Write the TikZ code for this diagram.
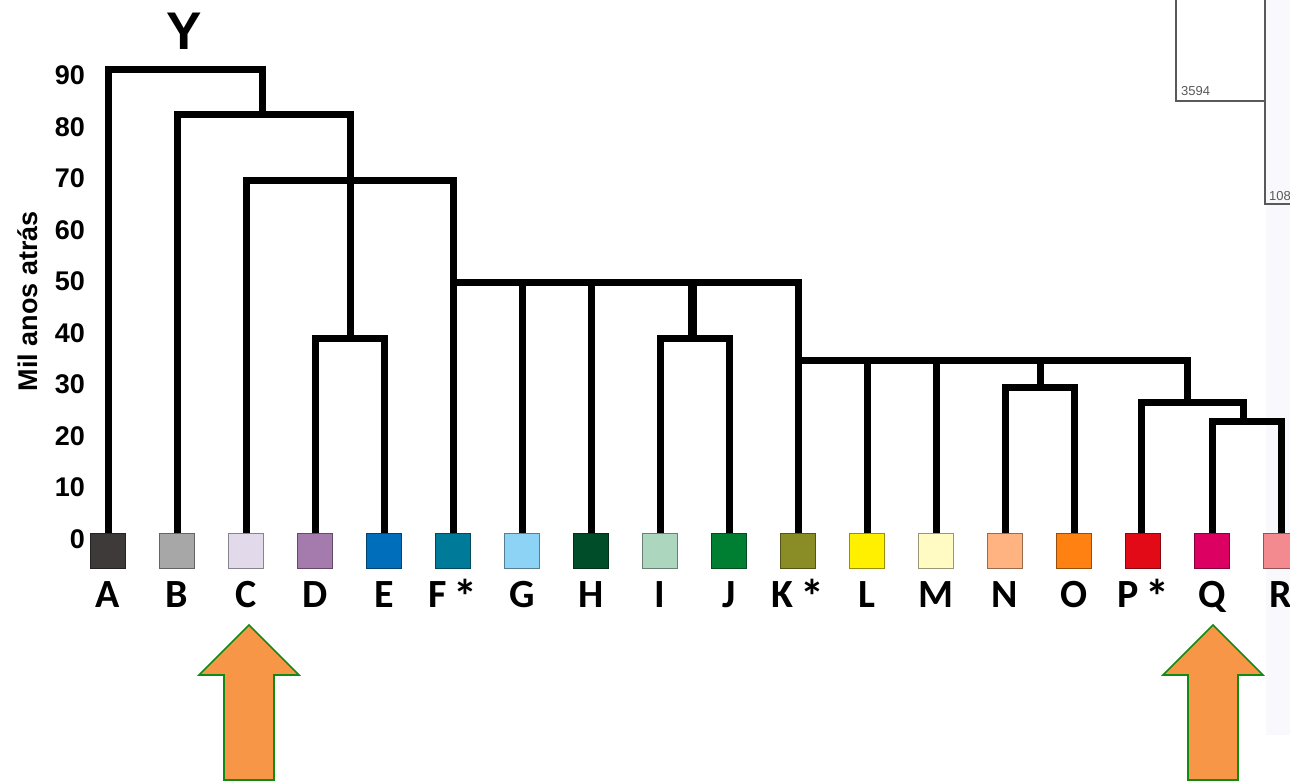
\documentclass[tikz,border=0pt]{standalone}
\usepackage{fontspec}
\setmainfont{Liberation Sans}
\newfontfamily\taxfont{Carlito}
\usetikzlibrary{positioning}

\definecolor{cA}{HTML}{3E3A39}
\definecolor{cB}{HTML}{A8A7A7}
\definecolor{cC}{HTML}{E2DAEB}
\definecolor{cD}{HTML}{A57BAD}
\definecolor{cE}{HTML}{006EBA}
\definecolor{cF}{HTML}{007A99}
\definecolor{cG}{HTML}{8DD3F5}
\definecolor{cH}{HTML}{004D2A}
\definecolor{cI}{HTML}{ADD6BF}
\definecolor{cJ}{HTML}{007F33}
\definecolor{cK}{HTML}{8A8C25}
\definecolor{cL}{HTML}{FFF000}
\definecolor{cM}{HTML}{FFFBC2}
\definecolor{cN}{HTML}{FFB381}
\definecolor{cO}{HTML}{FF8112}
\definecolor{cP}{HTML}{E20A17}
\definecolor{cQ}{HTML}{DC0063}
\definecolor{cR}{HTML}{F38A8F}
\definecolor{arrowfill}{HTML}{F79646}
\definecolor{arrowedge}{HTML}{138A13}
\definecolor{tint}{HTML}{F9F9FD}

\newcommand{\starmark}{\,\raisebox{-6pt}{\fontsize{48}{48}\selectfont *}}

\begin{document}
\begin{tikzpicture}[x=1pt,y=-1pt,
  branch/.style={line width=7pt,line cap=rect,line join=miter},
  taxon/.style={draw=#1!60!black,fill=#1,minimum size=35pt,inner sep=0pt,line width=0.8pt},
  taxlab/.style={anchor=base,inner sep=0pt,font=\taxfont\bfseries\fontsize{40}{40}\selectfont},
  tick/.style={anchor=east,inner sep=0pt,font=\bfseries\fontsize{27}{27}\selectfont},
  marker/.style={fill=arrowfill,draw=arrowedge,line width=1.6pt,line join=miter},
  oldtree/.style={draw=black!65,line width=1.1pt},
  oldlab/.style={anchor=base west,inner sep=0pt,text=black!65,font=\fontsize{13}{13}\selectfont}]
\useasboundingbox (0,0) rectangle (1290,781);
\clip (0,0) rectangle (1290,781);

% piece of another tree, top right
\fill[tint] (1266,0) rectangle (1290,735);
\draw[oldtree] (1176,0) |- (1265,101);
\draw[oldtree] (1265,0) |- (1292,204);
\node[oldlab] (old1) at (1181,96) {3594};
\node[oldlab] (old2) at (1269,200) {108};

% time axis
\foreach \v [count=\i from 0] in {0,10,...,90}
  \node[tick] (t\v) at (85,539-51.5*\i) {\v};
\node[rotate=90,anchor=base,inner sep=0pt,font=\bfseries\fontsize{27}{27}\selectfont] (ylab) at (37,301) {Mil anos atrás};
\node[anchor=base,inner sep=0pt,font=\bfseries\fontsize{53}{53}\selectfont] (ytitle) at (184,50) {Y};

% haplogroups
\foreach \n [count=\i from 0] in {A,B,C,D,E,F,G,H,I,J,K,L,M,N,O,P,Q,R}
  \coordinate (s\n) at (108+69*\i,551);

% split points
\coordinate (nRoot) at (262,70);
\coordinate (nBR) at (262,115);
\coordinate (nDE) at (350,338);
\coordinate (nCF) at (350,180);
\coordinate (n50) at (692,282);
\coordinate (nIJ) at (692,338);
\coordinate (nLR) at (1187,360);
\coordinate (nNO) at (1040,387);
\coordinate (nPR) at (1187,402);
\coordinate (nQR) at (1243,421);

\draw[branch] (sA) |- (nRoot) -- (nBR);
\draw[branch] (sB) |- (nBR) -| (nDE);
\draw[branch] (sD) |- (nDE) -| (sE);
\draw[branch] (sC) |- (nCF) -| (sF);
\draw[branch] (sF |- n50) -| (sK);
\draw[branch] (sG) -- (sG |- n50);
\draw[branch] (sH) -- (sH |- n50);
\draw[line width=9pt] (n50) -- (nIJ);
\draw[branch] (sI) |- (nIJ) -| (sJ);
\draw[branch] (sK |- nLR) -- (nLR) -- (nPR);
\draw[branch] (sL) -- (sL |- nLR);
\draw[branch] (sM) -- (sM |- nLR);
\draw[branch] (nNO |- nLR) -- (nNO);
\draw[branch] (sN) |- (nNO) -| (sO);
\draw[branch] ([xshift=-2pt]sP) |- (nPR) -| (nQR);
\draw[branch] (sQ) |- (nQR) -| (sR);

\foreach \n/\t in {A/A,B/B,C/C,D/D,E/E,F/{F\starmark},G/G,H/H,I/I,J/J,K/{K\starmark},L/L,M/M,N/N,O/O,P/{P\starmark},Q/Q,R/R}{
  \node[taxon=c\n] (b\n) at (s\n) {};
  \node[taxlab] (l\n) at ([yshift=-39pt]b\n.south) {\t};
}

% arrows under C and Q
\foreach \ax in {249,1213}
  \draw[marker] (\ax,625) -- (\ax+50,675) -- (\ax+25,675) -- (\ax+25,780) -- (\ax-25,780) -- (\ax-25,675) -- (\ax-50,675) -- cycle;
\end{tikzpicture}
\end{document}
